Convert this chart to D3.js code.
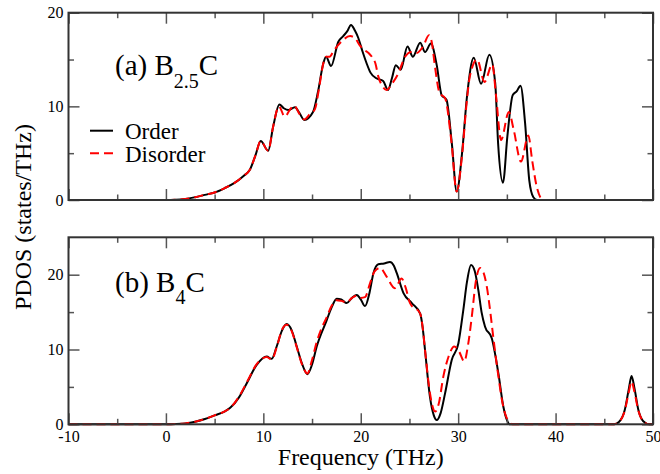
<!DOCTYPE html>
<html>
<head>
<meta charset="utf-8">
<script src="https://cdn.jsdelivr.net/npm/d3@7"></script>
<style>
  body { margin: 0; background: #fff }
  svg text { font-family: 'Liberation Serif', 'Times New Roman', 'DejaVu Serif', serif }
</style>
</head>
<body>
<svg id="chart" width="660" height="474"></svg>
<script>
var xTicks = [-10, 0, 10, 20, 30, 40, 50]
  , xMinor = [-5, 5, 15, 25, 35, 45]

// (a) B2.5C, frequency (THz) / PDOS pairs
var orderA = [
    [-10, 0], [0, 0], [1, 0.02], [2, 0.1], [3, 0.3], [4, 0.55], [5, 0.8], [6, 1.25]
  , [7, 1.8], [8, 2.6], [8.6, 3.2], [9.2, 4.8], [9.73, 6.3], [10.5, 5.25], [11.0, 7.8]
  , [11.65, 10.2], [12.1, 9.8], [12.57, 9.6], [13.25, 9.9], [13.7, 9.3], [14.2, 8.55]
  , [15.1, 9.4], [15.6, 11.5], [16.16, 14.6], [16.44, 15.3], [16.95, 14.3], [17.7, 16.9]
  , [18.2, 17.5], [18.6, 18.0], [19.0, 18.7], [19.4, 18.1], [19.75, 17.3], [20.2, 15.8]
  , [20.6, 14.6], [21.0, 13.6], [21.6, 13.0], [22.3, 12.7], [22.8, 11.75], [23.2, 13.0]
  , [23.6, 14.4], [24.1, 13.9], [24.8, 16.4], [25.35, 15.3], [26.1, 16.8], [26.6, 15.8]
  , [27.2, 16.7], [27.8, 14.4], [28.3, 11.2], [28.8, 10.7], [29.35, 6.05], [29.85, 0.9]
  , [30.4, 5.0], [30.9, 11.0], [31.6, 15.2], [32.35, 12.4], [33.2, 15.5], [33.8, 12.5]
  , [34.1, 6.05], [34.6, 1.85], [35.05, 6.8], [35.6, 11.2], [36.0, 11.6], [36.4, 12.2]
  , [36.87, 8.2], [37.3, 2.1], [37.72, 0.3], [38.1, 0], [50, 0]
]

var disorderA = [
    [-10, 0], [0, 0], [1, 0.02], [2, 0.1], [3, 0.3], [4, 0.55], [5, 0.8], [6, 1.25]
  , [7, 1.8], [8, 2.6], [8.6, 3.2], [9.2, 4.8], [9.73, 6.3], [10.5, 5.25], [11.0, 7.8]
  , [11.6, 10.0], [12.2, 8.9], [12.7, 9.6], [13.15, 10.1], [13.7, 9.2], [14.2, 8.6]
  , [14.8, 9.2], [15.3, 9.7], [15.7, 11.8], [16.16, 14.6], [16.44, 15.3], [16.8, 15.3]
  , [17.2, 15.9], [18.0, 16.9], [18.9, 17.5], [19.4, 17.3], [19.9, 16.5], [20.4, 16.0]
  , [20.8, 15.7], [21.2, 15.2], [21.5, 14.6], [21.8, 13.2], [22.2, 12.2], [22.65, 11.75]
  , [23.2, 12.4], [23.85, 13.5], [24.55, 15.3], [25.2, 15.8], [25.75, 15.7], [26.4, 16.4]
  , [27.0, 17.6], [27.3, 16.8], [27.6, 14.4], [28.1, 11.4], [28.65, 10.9], [29.3, 6.3]
  , [29.85, 0.9], [30.4, 4.8], [30.9, 10.7], [31.2, 13.2], [31.95, 15.0], [32.7, 12.6]
  , [33.5, 14.5], [33.9, 11.0], [34.4, 6.4], [35.2, 9.4], [35.7, 7.5], [36.45, 4.1]
  , [37.2, 6.9], [37.6, 4.2], [38.07, 1.4], [38.6, 0.1], [39, 0], [50, 0]
]

// (b) B4C
var orderB = [
    [-10, 0], [0, 0], [1, 0.03], [2, 0.12], [3, 0.35], [4, 0.7], [5, 1.2], [6, 1.7]
  , [6.6, 2.2], [7.5, 3.6], [8.3, 5.5], [9.3, 7.9], [10.35, 9.05], [10.86, 8.75]
  , [11.37, 10.4], [11.9, 12.5], [12.4, 13.4], [12.9, 12.6], [13.43, 10.4], [14.0, 8.0]
  , [14.52, 6.7], [15.0, 8.0], [15.48, 10.4], [16.5, 13.9], [17.0, 15.6], [17.53, 16.8]
  , [18.0, 16.7], [18.56, 16.2], [19.1, 16.9], [19.59, 17.3], [20.0, 16.7], [20.44, 15.8]
  , [20.9, 17.6], [21.3, 20.2], [21.8, 21.4], [22.4, 21.5], [23.0, 21.7], [23.4, 21.2]
  , [23.7, 20.2], [24.4, 17.5], [25.24, 16.2], [26.1, 14.8], [26.35, 13.0], [26.6, 9.9]
  , [27.1, 3.7], [27.5, 1.2], [27.8, 0.57], [28.2, 1.5], [28.65, 4.1], [29.34, 8.6]
  , [30.02, 10.8], [30.53, 15.3], [30.9, 19.0], [31.32, 21.3], [31.7, 20.5], [32.07, 17.95]
  , [32.4, 15.0], [32.76, 13.05], [33.45, 11.5], [34.13, 6.8], [34.64, 2.35], [35.0, 0.6]
  , [35.3, 0], [46.0, 0], [46.5, 0.3], [47.1, 1.9], [47.5, 4.6], [47.8, 6.45], [48.1, 4.8]
  , [48.5, 1.9], [49.0, 0.4], [49.6, 0], [50, 0]
]

var disorderB = [
    [-10, 0], [0, 0], [1, 0.03], [2, 0.12], [3, 0.35], [4, 0.7], [5, 1.2], [6, 1.7]
  , [6.6, 2.2], [7.5, 3.7], [8.3, 5.6], [9.3, 8.0], [10.35, 9.0], [10.86, 8.65]
  , [11.37, 10.3], [11.9, 12.6], [12.4, 13.3], [12.9, 12.5], [13.43, 10.3], [14.0, 7.9]
  , [14.52, 6.8], [15.0, 8.6], [15.48, 11.0], [16.0, 12.9], [16.5, 14.3], [17.0, 15.8]
  , [17.53, 16.6], [18.0, 16.5], [18.56, 16.3], [19.1, 16.9], [19.59, 17.2], [20.0, 16.9]
  , [20.44, 17.0], [20.95, 18.85], [21.4, 20.4], [21.98, 20.9], [22.67, 19.7], [23.5, 18.2]
  , [24.2, 19.5], [24.6, 18.3], [25.06, 16.2], [26.1, 14.8], [26.35, 13.0], [26.6, 9.9]
  , [27.1, 4.2], [27.63, 1.7], [28.0, 2.7], [28.48, 6.4], [29.0, 9.0], [29.6, 10.4]
  , [30.1, 9.7], [30.63, 8.4], [31.0, 10.5], [31.4, 14.4], [31.8, 19.0], [32.25, 20.9]
  , [32.6, 20.3], [32.94, 18.4], [33.3, 15.0], [33.6, 11.7], [34.13, 6.4], [34.5, 3.2]
  , [34.8, 1.5], [35.3, 0.2], [35.6, 0], [46.0, 0], [46.5, 0.3], [47.1, 1.8], [47.5, 4.2]
  , [47.8, 5.7], [48.1, 4.3], [48.5, 1.8], [49.0, 0.4], [49.6, 0], [50, 0]
]

var legendLabels = ['Order', 'Disorder']

var LEFT = 68.5
  , RIGHT = 653
  , MAJOR = 11
  , MINOR = 5.5
  , SERIF = "'Liberation Serif', 'Times New Roman', 'DejaVu Serif', serif"

var svg = d3.select('#chart')

var x = d3.scaleLinear().domain([-10, 50]).range([LEFT, RIGHT])

var panels = [
    { top: 12.7, bottom: 200, ymax: 20, yTicks: [0, 10, 20], yMinor: [5, 15]
    , order: orderA, disorder: disorderA, name: '(a) B', sub: '2.5', tail: 'C'
    , labelY: 75, subShift: 13, labels: false }
  , { top: 237.3, bottom: 424.3, ymax: 25, yTicks: [0, 10, 20], yMinor: [5, 15]
    , order: orderB, disorder: disorderB, name: '(b) B', sub: '4', tail: 'C'
    , labelY: 291.7, subShift: 12, labels: true }
]

panels.forEach(drawPanel)

// legend in panel (a)
var legend = svg.append('g')

legend.selectAll('line')
  .data(legendLabels)
  .enter()
    .append('line')
    .attr('x1', 90)
    .attr('x2', 113)
    .attr('y1', function(d, i) { return 130.7 + i * 22.6 })
    .attr('y2', function(d, i) { return 130.7 + i * 22.6 })
    .attr('stroke', function(d, i) { return i ? '#f00' : '#000' })
    .attr('stroke-width', 2)
    .attr('stroke-dasharray', function(d, i) { return i ? '9,5' : null })

legend.selectAll('text')
  .data(legendLabels)
  .enter()
    .append('text')
    .attr('x', 125)
    .attr('y', function(d, i) { return 138.5 + i * 23.2 })
    .attr('font-family', SERIF)
    .attr('font-size', 23)
    .text(function(d) { return d })

svg.append('text')
  .attr('x', (LEFT + RIGHT) / 2)
  .attr('y', 465)
  .attr('text-anchor', 'middle')
  .attr('font-family', SERIF)
  .attr('font-size', 24)
  .text('Frequency (THz)')

svg.append('text')
  .attr('transform', 'translate(31,217) rotate(-90)')
  .attr('text-anchor', 'middle')
  .attr('font-family', SERIF)
  .attr('font-size', 24)
  .text('PDOS (states/THz)')

function drawPanel(p) {
  var y = d3.scaleLinear().domain([0, p.ymax]).range([p.bottom, p.top])
    , g = svg.append('g')

  var line = d3.line()
    .x(function(d) { return x(d[0]) })
    .y(function(d) { return y(d[1]) })
    .curve(d3.curveMonotoneX)

  g.append('path')
    .datum(p.order)
    .attr('d', line)
    .attr('fill', 'none')
    .attr('stroke', '#000')
    .attr('stroke-width', 2)

  g.append('path')
    .datum(p.disorder)
    .attr('d', line)
    .attr('fill', 'none')
    .attr('stroke', '#f00')
    .attr('stroke-width', 2)
    .attr('stroke-dasharray', '9,5')

  // inward ticks on all four sides
  axis(g, d3.axisBottom(x).tickValues(xTicks).tickSize(-MAJOR).tickPadding(6)
    .tickFormat(p.labels ? String : ''), 'translate(0,' + p.bottom + ')')
  axis(g, d3.axisBottom(x).tickValues(xMinor).tickSize(-MINOR).tickFormat(''),
    'translate(0,' + p.bottom + ')')
  axis(g, d3.axisTop(x).tickValues(xTicks).tickSize(-MAJOR).tickFormat(''),
    'translate(0,' + p.top + ')')
  axis(g, d3.axisTop(x).tickValues(xMinor).tickSize(-MINOR).tickFormat(''),
    'translate(0,' + p.top + ')')
  axis(g, d3.axisLeft(y).tickValues(p.yTicks).tickSize(-MAJOR).tickPadding(5)
    .tickFormat(String), 'translate(' + LEFT + ',0)')
  axis(g, d3.axisLeft(y).tickValues(p.yMinor).tickSize(-MINOR).tickFormat(''),
    'translate(' + LEFT + ',0)')
  axis(g, d3.axisRight(y).tickValues(p.yTicks).tickSize(-MAJOR).tickFormat(''),
    'translate(' + RIGHT + ',0)')
  axis(g, d3.axisRight(y).tickValues(p.yMinor).tickSize(-MINOR).tickFormat(''),
    'translate(' + RIGHT + ',0)')

  g.append('rect')
    .attr('x', LEFT)
    .attr('y', p.top)
    .attr('width', RIGHT - LEFT)
    .attr('height', p.bottom - p.top)
    .attr('fill', 'none')
    .attr('stroke', '#333')
    .attr('stroke-width', 2)

  var label = g.append('text')
    .attr('x', 115)
    .attr('y', p.labelY)
    .attr('font-family', SERIF)
    .attr('font-size', 29)

  label.append('tspan').text(p.name)
  label.append('tspan')
    .attr('font-size', 20)
    .attr('dy', p.subShift)
    .text(p.sub)
  label.append('tspan')
    .attr('dy', -p.subShift)
    .text(p.tail)
}

function axis(g, ax, transform) {
  var a = g.append('g')
    .attr('transform', transform)
    .call(ax)

  a.attr('font-family', SERIF)
  a.select('.domain').remove()
  a.selectAll('line').attr('stroke', '#555').attr('stroke-width', 1.5)
  a.selectAll('text')
    .attr('font-family', SERIF)
    .attr('font-size', 16)
    .attr('fill', '#000')
}
</script>
</body>
</html>
